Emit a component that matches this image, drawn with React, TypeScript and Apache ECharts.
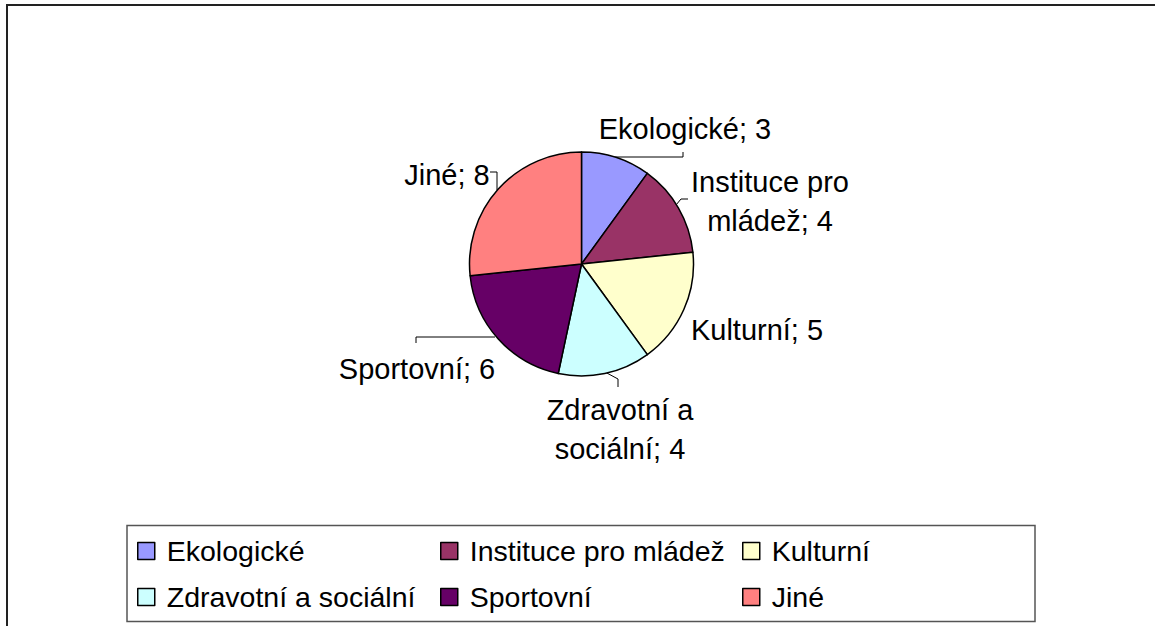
import React, { useEffect, useRef } from "react";
import * as echarts from "echarts";

const categories = ["Ekologické", "Instituce pro mládež", "Kulturní", "Zdravotní a sociální", "Sportovní", "Jiné"];
const values = [3, 4, 5, 4, 6, 8];
const colors = ["#9999FF", "#993366", "#FFFFCC", "#CCFFFF", "#660066", "#FF8080"];
const labelTexts = ["Ekologické", "Instituce pro\nmládež", "Kulturní", "Zdravotní a\nsociální", "Sportovní", "Jiné"];

// label placement (layout only)
const labelPos: { x: number; y: number; line: number[][] | null }[] = [
  { x: 685, y: 129, line: [[613, 157], [683, 157], [683, 152]] },
  { x: 770, y: 201, line: [[676, 205], [681, 199], [688, 199]] },
  { x: 757, y: 330, line: null },
  { x: 620, y: 429, line: [[605, 372], [618, 379], [618, 387]] },
  { x: 417, y: 369, line: [[495, 337], [416, 337], [416, 343]] },
  { x: 447, y: 175, line: [[497, 190], [497, 172], [490, 172]] },
];

const legendLeft = [137, 440, 742];
const FONT = "'Liberation Sans', Arial, sans-serif";

export default function App() {
  const ref = useRef<HTMLDivElement>(null);
  useEffect(() => {
    if (!ref.current) return;
    const chart = echarts.init(ref.current, null, { renderer: "svg" });
    const data = categories.map((name, i) => ({
      name,
      value: values[i],
      itemStyle: { color: colors[i] },
      labelLine: { show: labelPos[i].line !== null },
    }));
    chart.setOption({
      animation: false,
      backgroundColor: "#ffffff",
      graphic: [
        {
          type: "rect",
          shape: { x: 7, y: 5, width: 1400, height: 900 },
          style: { fill: "none", stroke: "#222", lineWidth: 2 },
          silent: true,
        },
        {
          type: "rect",
          shape: { x: 127, y: 525.5, width: 908, height: 96 },
          style: { fill: "none", stroke: "#555", lineWidth: 1.5 },
          silent: true,
        },
      ],
      legend: [0, 1, 2].map((c) => ({
        data: [categories[c], categories[c + 3]],
        orient: "vertical",
        left: legendLeft[c],
        top: 535,
        padding: 0,
        icon: "rect",
        itemWidth: 17,
        itemHeight: 17,
        itemGap: 14,
        selectedMode: false,
        itemStyle: { borderColor: "#000", borderWidth: 1.5 },
        textStyle: {
          fontFamily: FONT,
          fontSize: 28.5,
          lineHeight: 32,
          color: "#000",
          padding: [0, 0, 0, 7],
        },
      })),
      series: [
        {
          type: "pie",
          center: [581.5, 264],
          radius: 112,
          startAngle: 90,
          clockwise: true,
          avoidLabelOverlap: false,
          itemStyle: { borderColor: "#000", borderWidth: 1.5 },
          emphasis: { disabled: true },
          label: {
            show: true,
            position: "outside",
            formatter: (p: any) => `${labelTexts[p.dataIndex]}; ${p.value}`,
            fontFamily: FONT,
            fontSize: 29,
            lineHeight: 39,
            color: "#000",
            align: "center",
          },
          labelLine: { show: true, lineStyle: { color: "#000", width: 1 } },
          labelLayout: (params: any) => {
            const lp = labelPos[params.dataIndex];
            const res: any = { x: lp.x, y: lp.y, align: "center", verticalAlign: "middle" };
            if (lp.line) res.labelLinePoints = lp.line;
            return res;
          },
          data,
        },
      ],
    });
    return () => chart.dispose();
  }, []);
  return (
    <div
      ref={ref}
      style={{ position: "fixed", left: 0, top: 0, width: 1155, height: 626, background: "#fff" }}
    />
  );
}
